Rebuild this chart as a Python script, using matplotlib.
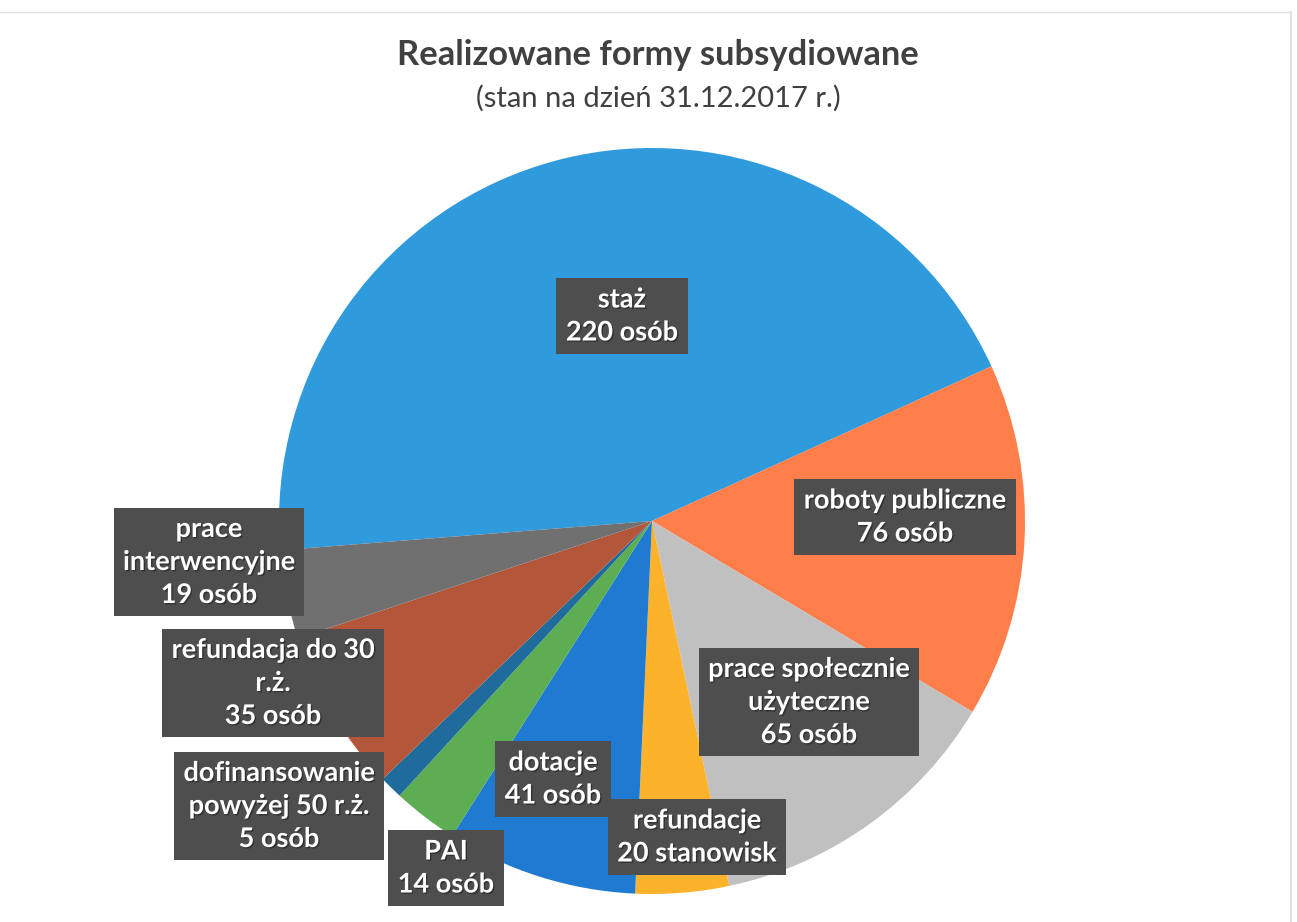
import matplotlib
matplotlib.use("Agg")
import matplotlib.pyplot as plt
import matplotlib.patheffects as pe

# --- data ---
categories = ["staż", "roboty publiczne", "prace społecznie\nużyteczne", "refundacje",
              "dotacje", "PAI", "dofinansowanie\npowyżej 50 r.ż.",
              "refundacja do 30\nr.ż.", "prace\ninterwencyjne"]
values = [220, 76, 65, 20, 41, 14, 5, 35, 19]
units = ["osób", "osób", "osób", "stanowisk", "osób", "osób", "osób", "osób", "osób"]
colors = ["#2F9BDC", "#FF7E4A", "#C0C0C0", "#FDB22C", "#1F7AD2",
          "#5DAD52", "#1F6C9C", "#B4563A", "#707070"]

title = "Realizowane formy subsydiowane"
subtitle = "(stan na dzień 31.12.2017 r.)"

# label box centres, in pixels from the top-left corner (moved by hand in the original)
label_pos = [(622, 316), (905, 517), (809, 702), (697, 837), (553, 779),
             (446, 868), (279, 806), (273, 683), (209, 562)]

W, H = 1297, 922
plt.rcParams['font.family'] = ['Lato', 'DejaVu Sans']

fig = plt.figure(figsize=(W / 100, H / 100), dpi=100)
ax = fig.add_axes([0, 0, 1, 1])

ax.pie(values, colors=colors, startangle=184.5, counterclock=False,
       center=(652, H - 521), radius=373, frame=True,
       wedgeprops=dict(linewidth=0))
ax.set_xlim(0, W)
ax.set_ylim(0, H)
ax.set_aspect('equal')
ax.axis('off')

for cat, val, unit, (x, y) in zip(categories, values, units, label_pos):
    ax.text(x, H - y, f"{cat}\n{val} {unit}", ha='center', va='center',
            fontsize=19.5, fontweight='bold', color='white', linespacing=1.45,
            path_effects=[pe.withSimplePatchShadow(offset=(1, -1), shadow_rgbFace='#202020', alpha=0.6)],
            bbox=dict(boxstyle='square,pad=0.35', facecolor='#4E4E4E', edgecolor='none'))

ax.text(658, H - 55, title, ha='center', va='center', fontsize=24.8,
        fontweight='bold', color='#404040')
ax.text(658, H - 98, subtitle, ha='center', va='center', fontsize=21,
        color='#404040')

# faint scan frame
ax.plot([0, 1291], [H - 12, H - 12], color='#DDDDDD', lw=1)
ax.plot([1291, 1291], [H - 12, 0], color='#E3E3E3', lw=1.5)

fig.savefig("out.png", dpi=100)
